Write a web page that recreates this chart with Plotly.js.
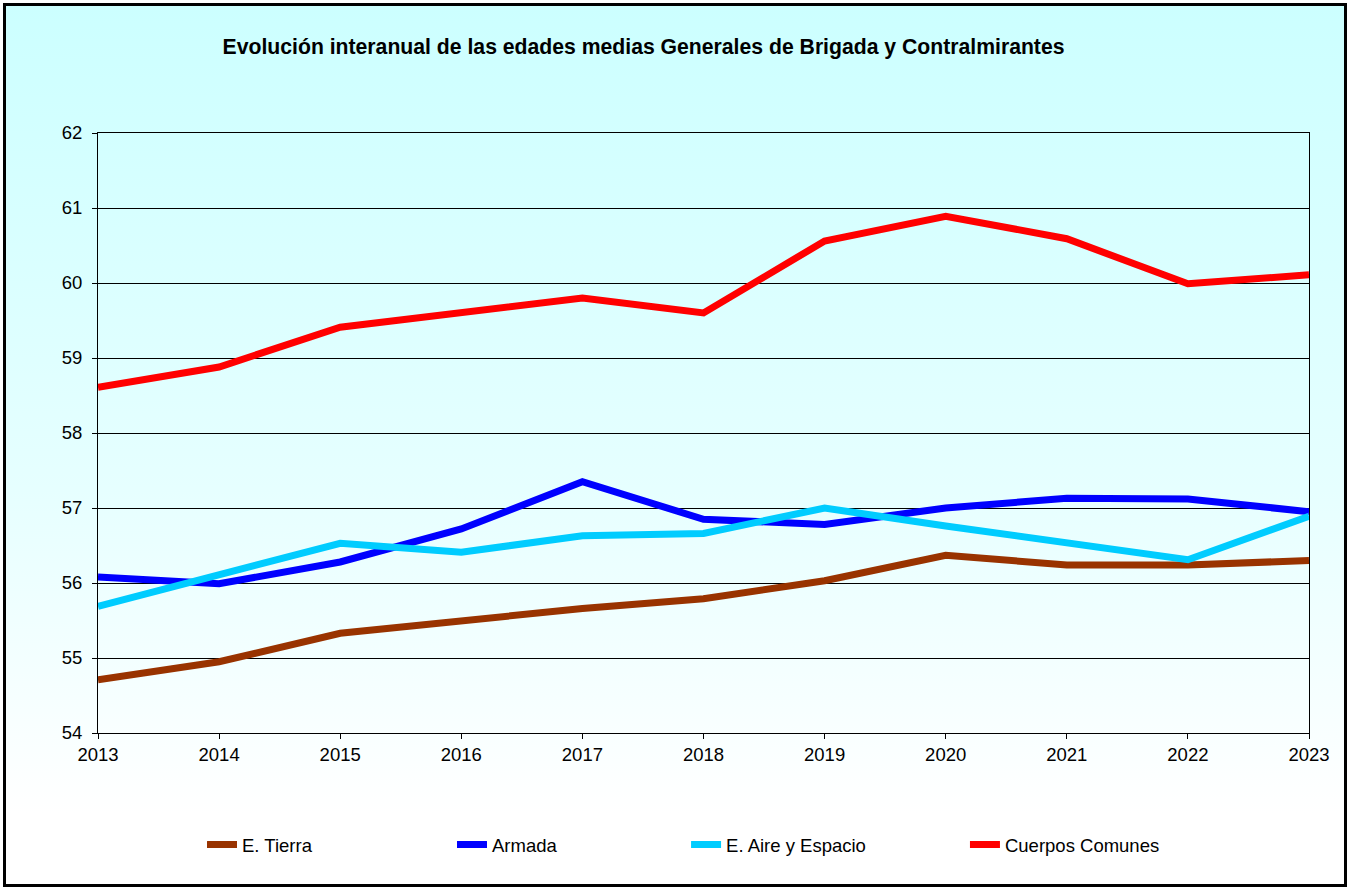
<!DOCTYPE html>
<html>
<head>
<meta charset="utf-8">
<script src="https://cdn.plot.ly/plotly-3.0.1.min.js"></script>
<style>
  html, body { margin: 0; padding: 0; background: #ffffff; }
  #frame {
    position: absolute; left: 3px; top: 3px; width: 1344px; height: 884px;
    box-sizing: border-box; border: 3px solid #000;
    background: linear-gradient(to bottom, #CCFFFF 0%, #E6FFFF 55%, #FFFFFF 92%, #FFFFFF 100%);
  }
  #chart { position: absolute; left: 0; top: 0; width: 1352px; height: 890px; }
</style>
</head>
<body>
<div id="frame"></div>
<div id="chart"></div>
<script>
const years = ['2013','2014','2015','2016','2017','2018','2019','2020','2021','2022','2023'];
const tierra = [54.71, 54.95, 55.33, 55.49, 55.66, 55.79, 56.03, 56.37, 56.24, 56.24, 56.30];
const armada = [56.08, 55.99, 56.28, 56.72, 57.35, 56.85, 56.78, 57.00, 57.13, 57.12, 56.95];
const aire   = [55.69, 56.10, 56.53, 56.41, 56.63, 56.66, 57.00, 56.76, 56.53, 56.31, 56.89];
const comunes= [58.61, 58.88, 59.41, 59.60, 59.80, 59.60, 60.56, 60.89, 60.59, 59.99, 60.11];
const seriesNames = ['E. Tierra', 'Armada', 'E. Aire y Espacio', 'Cuerpos Comunes'];
const yTicks = [54, 55, 56, 57, 58, 59, 60, 61, 62];
const titleText = 'Evolución interanual de las edades medias Generales de Brigada y Contralmirantes';

const colors = ['#993300', '#0000FF', '#00CCFF', '#FF0000'];
const legendIds = ['legend', 'legend2', 'legend3', 'legend4'];
const legendX = [0.0859, 0.2923, 0.4856, 0.7159];
const allData = [tierra, armada, aire, comunes];
const traces = allData.map((vals, i) => ({
  x: years, y: vals, name: seriesNames[i], type: 'scatter', mode: 'lines',
  line: { color: colors[i], width: 7 }, legend: legendIds[i]
}));

const font = { family: 'Liberation Sans, Arial, sans-serif', color: '#000' };
const layout = {
  width: 1352, height: 890,
  paper_bgcolor: 'rgba(0,0,0,0)', plot_bgcolor: 'rgba(0,0,0,0)',
  margin: { l: 98, r: 43, t: 133, b: 157, pad: 0, autoexpand: false },
  font: Object.assign({ size: 18.5 }, font),
  title: {
    text: '<b>' + titleText + '</b>',
    x: 0.476, xanchor: 'center', y: 0.948, yanchor: 'middle',
    font: Object.assign({ size: 21.2 }, font)
  },
  xaxis: {
    type: 'category', tickvals: years, ticktext: years,
    range: [0, years.length - 1],
    showline: true, linecolor: '#000', linewidth: 1, mirror: true,
    ticks: 'outside', ticklen: 5, tickcolor: '#000', tickwidth: 1,
    showgrid: false, zeroline: false,
    tickfont: Object.assign({ size: 18.5 }, font)
  },
  yaxis: {
    range: [54, 62], tickvals: yTicks, ticktext: yTicks.map(String),
    showline: true, linecolor: '#000', linewidth: 1, mirror: true,
    ticks: 'outside', ticklen: 5, tickcolor: '#000', tickwidth: 1,
    ticklabelstandoff: 6,
    showgrid: true, gridcolor: '#000', gridwidth: 1, zeroline: false,
    tickfont: Object.assign({ size: 18.5 }, font)
  },
  showlegend: true
};
legendIds.forEach((id, i) => {
  layout[id] = {
    orientation: 'h', x: legendX[i], xanchor: 'left', y: -0.155, yanchor: 'top',
    bgcolor: 'rgba(0,0,0,0)', borderwidth: 0,
    font: Object.assign({ size: 18.5 }, font)
  };
});

Plotly.newPlot('chart', traces, layout, { displayModeBar: false, staticPlot: true });
</script>
</body>
</html>
